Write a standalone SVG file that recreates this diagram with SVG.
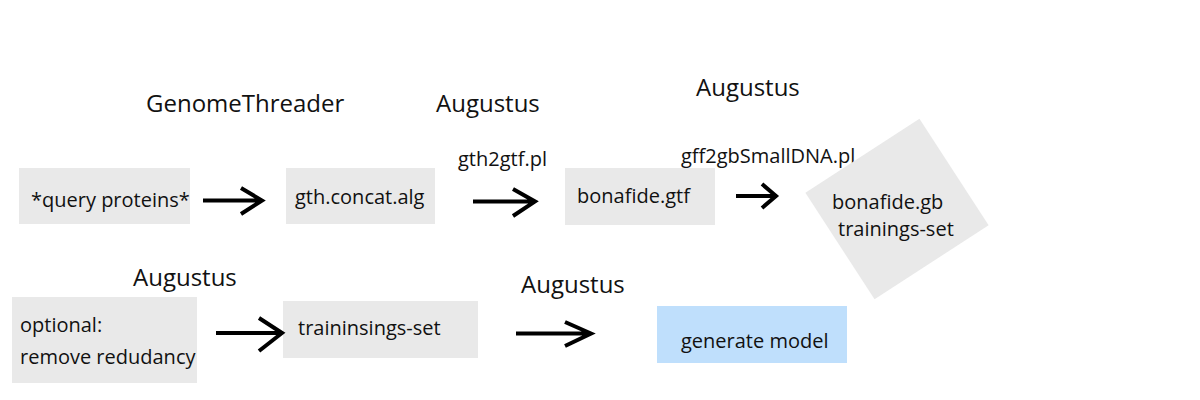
<svg xmlns="http://www.w3.org/2000/svg" width="1200" height="400" viewBox="0 0 1200 400">
<style>
text{font-family:"Open Sans","Noto Sans","Liberation Sans",sans-serif;fill:#111}
.h{font-size:24px}
.n{font-size:20px}
.s{font-size:20px}
.box{fill:#e9e9e9}
.blue{fill:#bfdffc}
.arr{fill:none;stroke:#000;stroke-width:4;stroke-linecap:butt;stroke-linejoin:miter}
</style>
<rect width="1200" height="400" fill="#fff"/>
<g id="labels">
<text class="h" x="146" y="112">GenomeThreader</text>
<text class="h" x="436" y="112">Augustus</text>
<text class="h" x="696" y="96">Augustus</text>
<text class="h" x="133" y="286">Augustus</text>
<text class="h" x="521" y="293">Augustus</text>
<text class="s" x="458" y="166">gth2gtf.pl</text>
<text class="s" x="681" y="163">gff2gbSmallDNA.pl</text>
</g>
<g id="query"><rect class="box" x="19" y="168" width="171" height="56"/><text class="n" x="31" y="207">*query proteins*</text></g>
<g id="gth"><rect class="box" x="286" y="168" width="149" height="56"/><text class="n" x="295" y="204">gth.concat.alg</text></g>
<g id="gtf"><rect class="box" x="565" y="168" width="150" height="57"/><text class="n" x="577" y="203">bonafide.gtf</text></g>
<g id="gb"><rect class="box" x="-68" y="-63.5" width="136" height="127" transform="translate(897,209) rotate(-33)"/><text class="n" x="832" y="209">bonafide.gb</text><text class="n" x="838" y="236">trainings-set</text></g>
<g id="optional"><rect class="box" x="12" y="297" width="185" height="86"/><text class="n" x="20" y="332">optional:</text><text class="n" x="20" y="364">remove redudancy</text></g>
<g id="trainset"><rect class="box" x="283" y="301" width="195" height="57"/><text class="n" x="298" y="335">traininsings-set</text></g>
<g id="model"><rect class="blue" x="657" y="306" width="190" height="57"/><text class="n" x="681" y="348">generate model</text></g>
<g id="connectors">
<path class="arr" d="M203 200.5H262M241 188L262 200.5L241 214"/>
<path class="arr" d="M473 201.5H535M513 189L535 201.5L513 216"/>
<path class="arr" d="M736 196H776M762 184L776 196L762 208"/>
<path class="arr" d="M216 333H282M259 318L282 333L259 351"/>
<path class="arr" d="M516 333.5H591M565 322L591 333.5L565 346"/>
</g>
</svg>
